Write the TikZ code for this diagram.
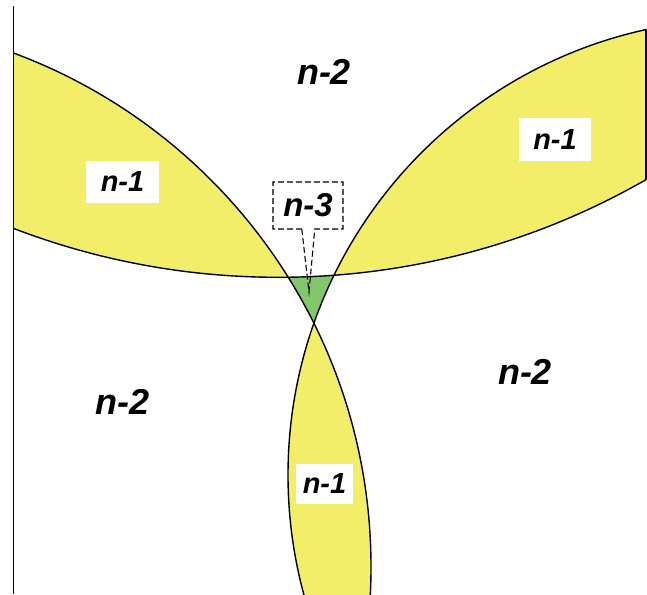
\documentclass[tikz,border=0pt]{standalone}
\usepackage{fontspec}
\setmainfont{Liberation Sans}
\usetikzlibrary{shapes.callouts}
\definecolor{lensyellow}{RGB}{243,238,105}
\definecolor{coregreen}{RGB}{128,200,105}
\begin{document}
\begin{tikzpicture}[x=1pt,y=-1pt,
  edge/.style={line width=1.4pt},
  lbl/.style={font=\fontsize{36}{36}\selectfont\bfseries\itshape, inner sep=0pt},
  lbox/.style={font=\fontsize{29}{29}\selectfont\bfseries\itshape, fill=white, inner sep=0pt},
  callbox/.style={rectangle callout, draw, dash pattern=on 6pt off 3pt, line width=1.1pt,
    font=\fontsize{33}{33}\selectfont\bfseries\itshape, inner sep=0pt,
    minimum width=70pt, minimum height=47pt, callout pointer width=13pt},
]
\useasboundingbox (0,0) rectangle (647,594);
\coordinate (cA) at (278.5,-462);
\coordinate (cB) at (-177,567);
\coordinate (cC) at (744,475);
\def\rA{739.3pt}
\def\rB{548pt}
\def\rC{456pt}
\begin{scope}
  \clip (13,0) rectangle (646.5,594);
  % core region outside all three circles
  \begin{scope}
    \clip (270,255) rectangle (355,340);
    \fill[coregreen] (270,255) rectangle (355,340);
    \fill[white] (cA) circle[radius=\rA];
    \fill[white] (cB) circle[radius=\rB];
    \fill[white] (cC) circle[radius=\rC];
  \end{scope}
  % pairwise lenses
  \begin{scope}
    \clip (cA) circle[radius=\rA];
    \fill[lensyellow] (cB) circle[radius=\rB];
    \fill[lensyellow] (cC) circle[radius=\rC];
  \end{scope}
  \begin{scope}
    \clip (cB) circle[radius=\rB];
    \fill[lensyellow] (cC) circle[radius=\rC];
  \end{scope}
  % outlines
  \draw[edge] (cA) circle[radius=\rA];
  \draw[edge] (cB) circle[radius=\rB];
  \draw[edge] (cC) circle[radius=\rC];
\end{scope}
% right edge of the upper-right lens
\begin{scope}
  \clip (cA) circle[radius=\rA];
  \clip (cC) circle[radius=\rC];
  \draw[edge] (646,0) -- (646,300);
\end{scope}
% left border
\coordinate (ltop) at (13,6);
\coordinate (lbot) at (13,594);
\draw[line width=1pt] (ltop) -- (lbot);
% labels
\node[lbl] (t2) at (324,72) {n-2};
\node[lbl] (l2) at (122.5,402) {n-2};
\node[lbl] (r2) at (525,372) {n-2};
\node[lbox, minimum width=73pt, minimum height=42pt] (l1) at (122.5,182) {n-1};
\node[lbox, minimum width=72pt, minimum height=43pt] (r1) at (555,139.5) {n-1};
\node[lbox, minimum width=57pt, minimum height=40pt] (b1) at (324.5,484) {n-1};
\coordinate (tip) at (309,292);
\node[callbox, callout absolute pointer={(tip)}] (c3) at (308,205.5) {n-3};
\end{tikzpicture}
\end{document}
